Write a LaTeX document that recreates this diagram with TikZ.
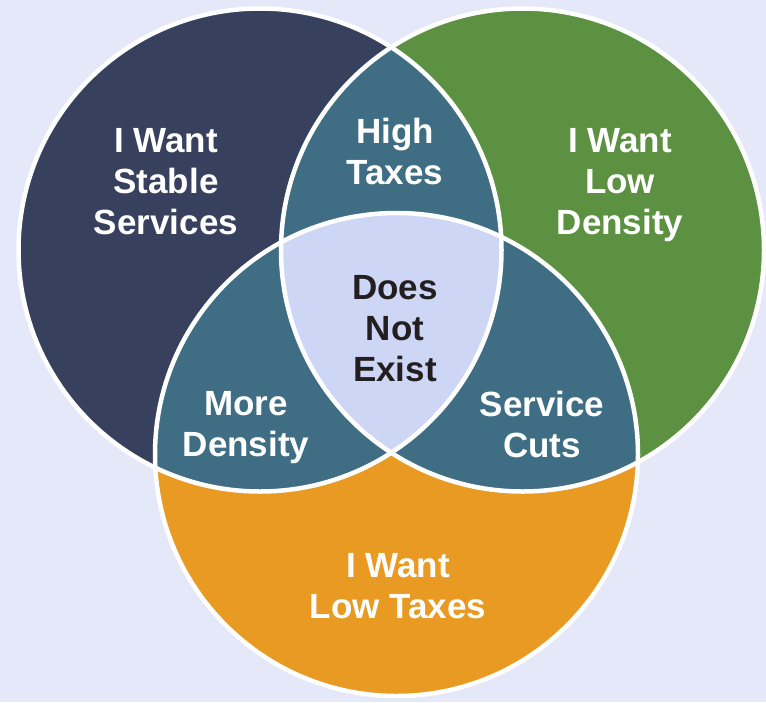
\documentclass[tikz,border=0pt]{standalone}
\usepackage{fontspec}
\setmainfont{Liberation Sans}
\usetikzlibrary{positioning}
\definecolor{bgblue}{HTML}{E4E8F8}
\definecolor{servnavy}{HTML}{37415E}
\definecolor{densgreen}{HTML}{5B9141}
\definecolor{taxorange}{HTML}{E89A22}
\definecolor{overlapteal}{HTML}{3F6E84}
\definecolor{corelilac}{HTML}{CDD6F4}
\definecolor{coretext}{HTML}{231F20}

\begin{document}
\begin{tikzpicture}[x=1pt,y=-1pt]
  \tikzset{
    venntext/.style={align=center,inner sep=0pt,font=\fontsize{35}{41}\selectfont\bfseries,text=white},
    ring/.style={draw=white,line width=4.5pt}
  }
    %BACKGROUND
    \fill[bgblue] (0,0) rectangle (766,702);
    \useasboundingbox (0,0) rectangle (766,702);

    %CENTERS
    \coordinate (services) at (260,250);
    \coordinate (density) at (522.5,250);
    \coordinate (taxes) at (396.5,454.5);

    %CIRCLES
    \fill[servnavy] (services) circle (241.5);
    \fill[densgreen] (density) circle (241.5);
    \fill[taxorange] (taxes) circle (241.5);

    %OVERLAPS
    \begin{scope}
      \clip (services) circle (241.5);
      \fill[overlapteal] (density) circle (241.5);
      \fill[overlapteal] (taxes) circle (241.5);
    \end{scope}
    \begin{scope}
      \clip (density) circle (241.5);
      \fill[overlapteal] (taxes) circle (241.5);
    \end{scope}
    \begin{scope}
      \clip (services) circle (241.5);
      \clip (density) circle (241.5);
      \fill[corelilac] (taxes) circle (241.5);
    \end{scope}

    %OUTLINES
    \foreach \c in {services,density,taxes} {
      \draw[ring] (\c) circle (241.5);
    }

    %LABELS
    \node[venntext] (stable) at (166,182) {I Want\\Stable\\Services};
    \node[venntext] (lowdens) at (620,185) {I Want\\Low\\Density};
    \node[venntext] (lowtax) at (398,586) {I Want\\Low Taxes};
    \node[venntext] (hightax) at (395,151) {High\\Taxes};
    \node[venntext] (moredens) at (246,428) {More\\Density};
    \node[venntext] (cuts) at (542,424) {Service\\Cuts};
    \node[venntext,text=coretext] (none) at (395,329) {Does\\Not\\Exist};
  \end{tikzpicture}
\end{document}
